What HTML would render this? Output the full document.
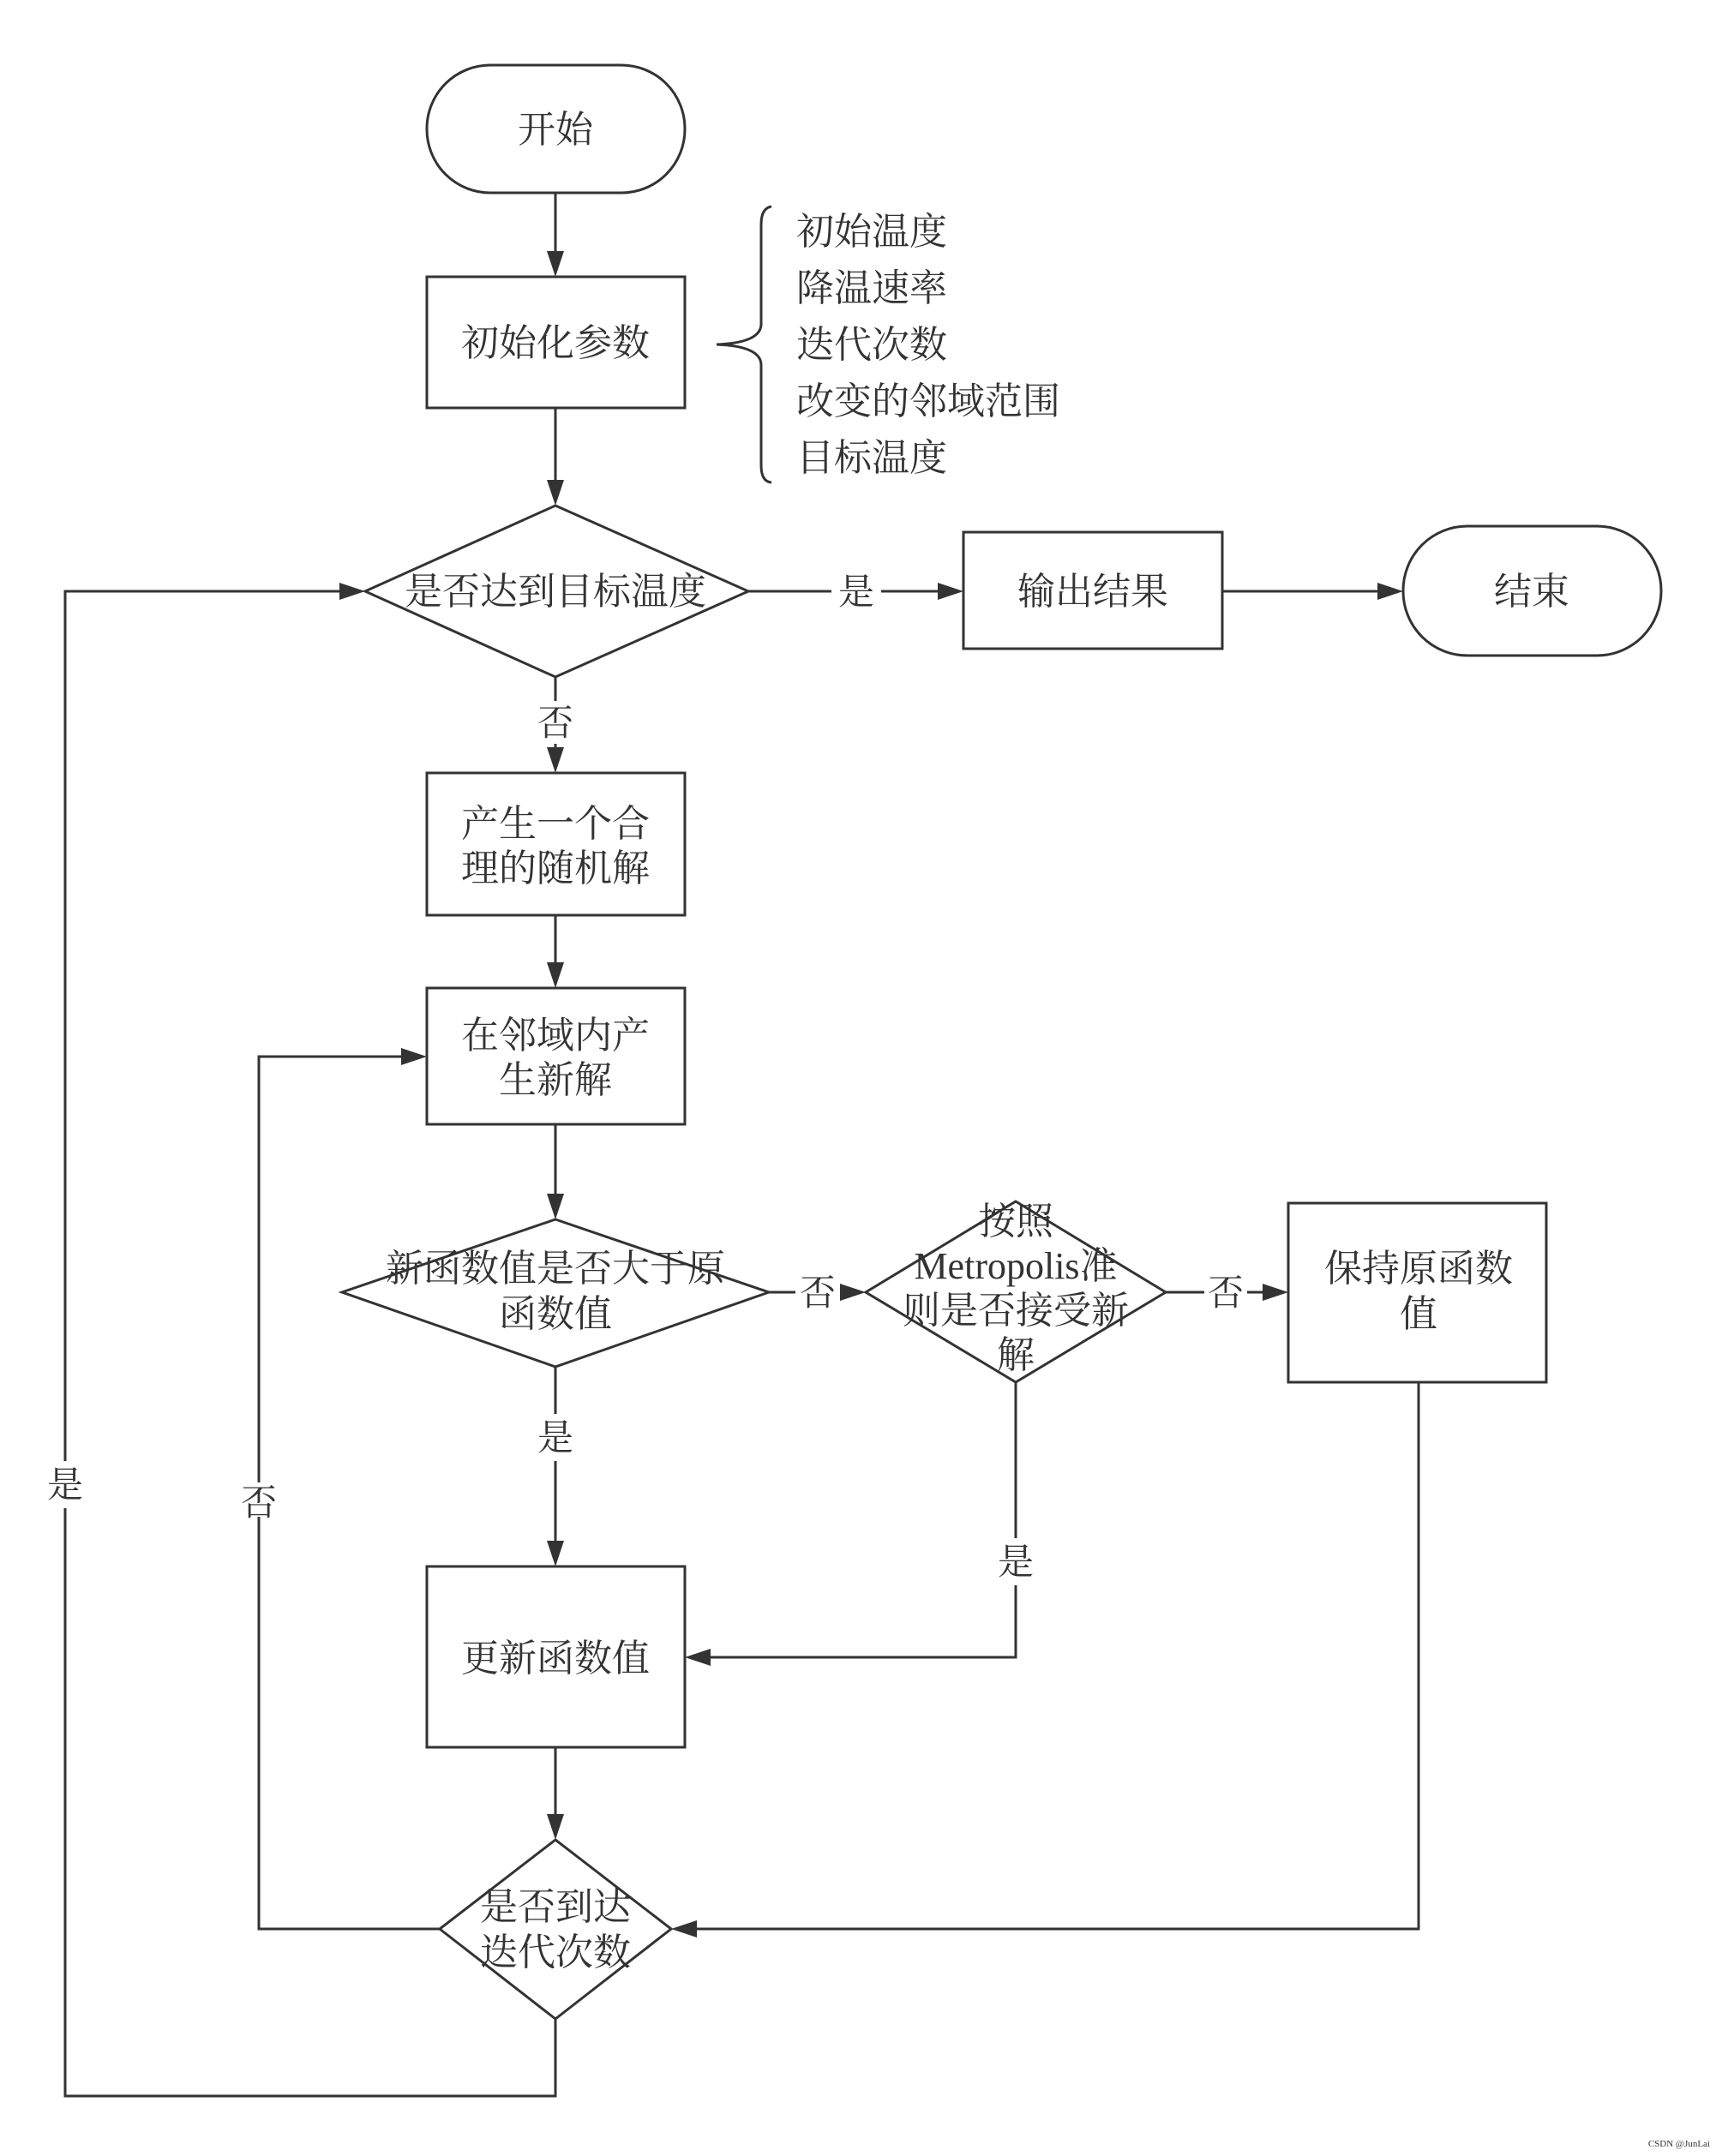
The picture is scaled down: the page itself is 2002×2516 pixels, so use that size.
<!DOCTYPE html>
<html><head><meta charset="utf-8"><style>
html,body{margin:0;padding:0;background:#fff;}
svg text{font-family:"Liberation Serif","Noto Serif CJK SC",serif;fill:#333;}
</style></head><body>
<svg width="2002" height="2511" viewBox="0 0 2002 2511" xmlns="http://www.w3.org/2000/svg">
<defs>
<marker id="a" markerWidth="10" markerHeight="10" refX="9" refY="5" orient="auto" markerUnits="userSpaceOnUse" viewBox="0 0 10 10">
</marker>
</defs>
<g fill="none" stroke="#333" stroke-width="3">
<!-- start -->
<rect x="498" y="76" width="301" height="149" rx="74" ry="74"/>
<!-- init -->
<rect x="498" y="323" width="301" height="153"/>
<!-- brace -->
<path d="M900,241 Q888,243 888,262 L888,378 Q888,400 836,402 Q888,404 888,426 L888,543 Q888,562 900,563"/>
<!-- diamond1 -->
<polygon points="648,590 873,690 648,790 426,690"/>
<rect x="1124" y="621" width="302" height="136"/>
<rect x="1637" y="614" width="301" height="151" rx="75" ry="75"/>
<rect x="498" y="902" width="301" height="166"/>
<rect x="498" y="1153" width="301" height="159"/>
<polygon points="648,1423 897,1508 648,1595 399,1508"/>
<polygon points="1185,1402 1360,1508 1185,1613 1010,1508"/>
<rect x="1503" y="1404" width="301" height="209"/>
<rect x="498" y="1828" width="301" height="211"/>
<polygon points="648,2147 783,2251 648,2356 513,2251"/>
<!-- connectors -->
<line x1="648" y1="225" x2="648" y2="300"/>
<line x1="648" y1="476" x2="648" y2="567"/>
<line x1="873" y1="690" x2="970" y2="690"/>
<line x1="1028" y1="690" x2="1100" y2="690"/>
<line x1="1426" y1="690" x2="1613" y2="690"/>
<line x1="648" y1="790" x2="648" y2="818"/>
<line x1="648" y1="868" x2="648" y2="880"/>
<line x1="648" y1="1068" x2="648" y2="1130"/>
<line x1="648" y1="1312" x2="648" y2="1400"/>
<line x1="897" y1="1508" x2="928" y2="1508"/>
<line x1="980" y1="1508" x2="988" y2="1508"/>
<line x1="1360" y1="1508" x2="1405" y2="1508"/>
<line x1="1455" y1="1508" x2="1480" y2="1508"/>
<line x1="648" y1="1595" x2="648" y2="1650"/>
<line x1="648" y1="1705" x2="648" y2="1805"/>
<polyline points="1185,1613 1185,1795"/>
<polyline points="1185,1850 1185,1934 822,1934"/>
<line x1="648" y1="2039" x2="648" y2="2124"/>
<polyline points="1655,1613 1655,2251 806,2251"/>
<polyline points="513,2251 302,2251 302,1770"/>
<polyline points="302,1730 302,1233 475,1233"/>
<polyline points="648,2356 648,2446 76,2446 76,1760"/>
<polyline points="76,1705 76,690 403,690"/>
</g>
<g fill="#333">
<polygon points="648,323 638,293 658,293"/>
<polygon points="648,590 638,560 658,560"/>
<polygon points="1124,690 1094,680 1094,700"/>
<polygon points="1637,690 1607,680 1607,700"/>
<polygon points="648,902 638,872 658,872"/>
<polygon points="648,1153 638,1123 658,1123"/>
<polygon points="648,1423 638,1393 658,1393"/>
<polygon points="1010,1508 980,1498 980,1518"/>
<polygon points="1503,1508 1473,1498 1473,1518"/>
<polygon points="648,1828 638,1798 658,1798"/>
<polygon points="799,1934 829,1924 829,1944"/>
<polygon points="648,2147 638,2117 658,2117"/>
<polygon points="783,2251 813,2241 813,2261"/>
<polygon points="498,1233 468,1223 468,1243"/>
<polygon points="426,690 396,680 396,700"/>
</g>
<g font-size="44" text-anchor="middle">
<text x="648" y="166">开始</text>
<text x="648" y="415">初始化参数</text>
<text x="648" y="705">是否达到目标温度</text>
<text x="1275" y="705">输出结果</text>
<text x="1787" y="705">结束</text>
<text x="648" y="976">产生一个合</text>
<text x="648" y="1028">理的随机解</text>
<text x="648" y="1223">在邻域内产</text>
<text x="648" y="1275">生新解</text>
<text x="648" y="1495">新函数值是否大于原</text>
<text x="648" y="1548">函数值</text>
<text x="1185" y="1440">按照</text>
<text x="1185" y="1492">Metropolis准</text>
<text x="1185" y="1544">则是否接受新</text>
<text x="1185" y="1596">解</text>
<text x="1655" y="1495">保持原函数</text>
<text x="1655" y="1548">值</text>
<text x="648" y="1950">更新函数值</text>
<text x="648" y="2240">是否到达</text>
<text x="648" y="2293">迭代次数</text>
</g>
<g font-size="42" text-anchor="middle">
<text x="999" y="705">是</text>
<text x="648" y="858">否</text>
<text x="954" y="1523">否</text>
<text x="1430" y="1523">否</text>
<text x="648" y="1692">是</text>
<text x="1185" y="1837">是</text>
<text x="302" y="1768">否</text>
<text x="76" y="1747">是</text>
</g>
<g font-size="44" text-anchor="start">
<text x="929" y="285">初始温度</text>
<text x="929" y="351">降温速率</text>
<text x="929" y="417">迭代次数</text>
<text x="929" y="483">改变的邻域范围</text>
<text x="929" y="549">目标温度</text>
</g>
<text x="1995" y="2505" font-size="11" text-anchor="end" fill="#999">CSDN @JunLai</text>
</svg>
</body></html>
